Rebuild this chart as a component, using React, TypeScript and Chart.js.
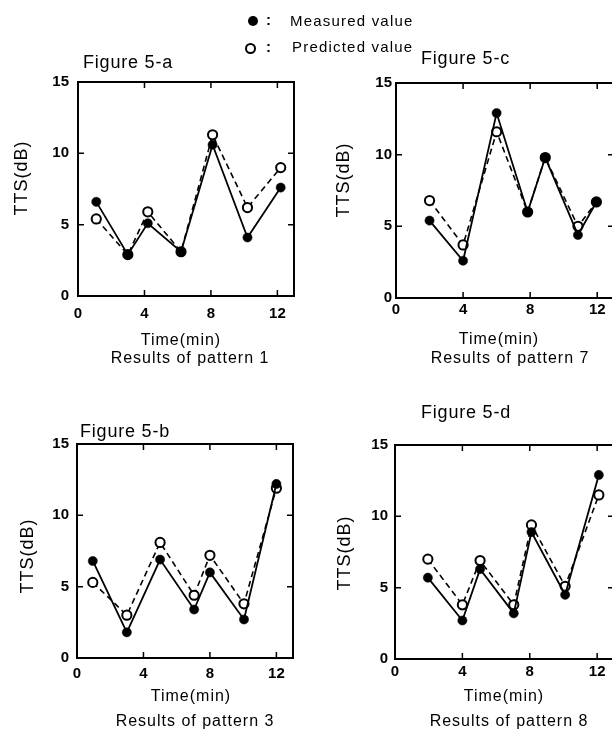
import React, { useEffect, useRef } from "react";
import { Chart, registerables } from "chart.js";
Chart.register(...registerables);

// ---------- data ----------
const X_TICKS = [0, 4, 8, 12];
const Y_TICKS = [0, 5, 10, 15];
const X_MAX = 13;
const Y_MAX = 15;

const TIME_A = [1.1, 3.0, 4.2, 6.2, 8.1, 10.2, 12.2];
const MEASURED_A = [6.6, 2.9, 5.1, 3.1, 10.6, 4.1, 7.6];
const PREDICTED_A = [5.4, 2.9, 5.9, 3.1, 11.3, 6.2, 9.0];

const TIME_B = [0.95, 3.0, 5.0, 7.05, 8.0, 10.05, 12.0];
const MEASURED_B = [6.8, 1.8, 6.9, 3.4, 6.0, 2.7, 12.2];
const PREDICTED_B = [5.3, 3.0, 8.1, 4.4, 7.2, 3.8, 11.9];

const TIME_C = [2.0, 4.0, 6.0, 7.85, 8.9, 10.85, 11.95];
const MEASURED_C = [5.4, 2.6, 12.9, 6.0, 9.8, 4.4, 6.7];
const PREDICTED_C = [6.8, 3.7, 11.6, 6.0, 9.8, 5.0, 6.7];

const TIME_D = [1.95, 4.0, 5.05, 7.05, 8.1, 10.1, 12.1];
const MEASURED_D = [5.7, 2.7, 6.3, 3.2, 8.9, 4.5, 12.9];
const PREDICTED_D = [7.0, 3.8, 6.9, 3.8, 9.4, 5.1, 11.5];

const Y_LABEL = "TTS(dB)";
const X_LABEL = "Time(min)";
const LEGEND_MEASURED = "Measured value";
const LEGEND_PREDICTED = "Predicted value";

// ---------- layout ----------
type Panel = {
  title: string;
  caption: string;
  time: number[];
  measured: number[];
  predicted: number[];
  box: { x: number; y: number; w: number; h: number };
  area: { l: number; t: number; r: number; b: number };
  titlePos: { x: number; y: number };
  yTitlePos: { x: number; y: number };
  xTitlePos: { x: number; y: number };
  capPos: { x: number; y: number };
  yTickPad: number;
  xTickPad: number;
};

const XAXIS_H = 30;
const FONT = "'Liberation Sans', Arial, sans-serif";

const PANELS: Panel[] = [
  {
    title: "Figure 5-a",
    caption: "Results of pattern 1",
    time: TIME_A, measured: MEASURED_A, predicted: PREDICTED_A,
    box: { x: 0, y: 0, w: 306, h: 366 },
    area: { l: 78, t: 82, r: 294, b: 296 },
    titlePos: { x: 83, y: 68 },
    yTitlePos: { x: 22, y: 178 },
    xTitlePos: { x: 181, y: 341 },
    capPos: { x: 190, y: 359 },
    yTickPad: 9,
    xTickPad: 9,
  },
  {
    title: "Figure 5-b",
    caption: "Results of pattern 3",
    time: TIME_B, measured: MEASURED_B, predicted: PREDICTED_B,
    box: { x: 0, y: 366, w: 306, h: 367 },
    area: { l: 77, t: 444, r: 293, b: 658 },
    titlePos: { x: 80, y: 437 },
    yTitlePos: { x: 28, y: 556 },
    xTitlePos: { x: 191, y: 697 },
    capPos: { x: 195, y: 722 },
    yTickPad: 8,
    xTickPad: 7,
  },
  {
    title: "Figure 5-c",
    caption: "Results of pattern 7",
    time: TIME_C, measured: MEASURED_C, predicted: PREDICTED_C,
    box: { x: 306, y: 0, w: 320, h: 366 },
    area: { l: 396, t: 83, r: 614, b: 298 },
    titlePos: { x: 421, y: 64 },
    yTitlePos: { x: 344, y: 180 },
    xTitlePos: { x: 499, y: 340 },
    capPos: { x: 510, y: 359 },
    yTickPad: 4,
    xTickPad: 3,
  },
  {
    title: "Figure 5-d",
    caption: "Results of pattern 8",
    time: TIME_D, measured: MEASURED_D, predicted: PREDICTED_D,
    box: { x: 306, y: 366, w: 320, h: 367 },
    area: { l: 395, t: 445, r: 614, b: 659 },
    titlePos: { x: 421, y: 418 },
    yTitlePos: { x: 345, y: 553 },
    xTitlePos: { x: 504, y: 697 },
    capPos: { x: 509, y: 722 },
    yTickPad: 7,
    xTickPad: 4,
  },
];

function makeDecorPlugin(p: Panel) {
  return {
    id: "decor",
    afterDraw(chart: any) {
      const ctx: CanvasRenderingContext2D = chart.ctx;
      const a = chart.chartArea;
      const xs = chart.scales.x;
      const ys = chart.scales.y;
      const ox = p.box.x;
      const oy = p.box.y;
      ctx.save();
      ctx.strokeStyle = "#000";
      ctx.fillStyle = "#000";
      // frame
      ctx.lineWidth = 2;
      ctx.strokeRect(a.left, a.top, a.right - a.left, a.bottom - a.top);
      // inward ticks
      ctx.lineWidth = 1.5;
      const TL = 6;
      ctx.beginPath();
      X_TICKS.forEach((v) => {
        if (v <= 0) return;
        const px = xs.getPixelForValue(v);
        ctx.moveTo(px, a.bottom);
        ctx.lineTo(px, a.bottom - TL);
        ctx.moveTo(px, a.top);
        ctx.lineTo(px, a.top + TL);
      });
      Y_TICKS.forEach((v) => {
        if (v <= 0 || v >= Y_MAX) return;
        const py = ys.getPixelForValue(v);
        ctx.moveTo(a.left, py);
        ctx.lineTo(a.left + TL, py);
        ctx.moveTo(a.right, py);
        ctx.lineTo(a.right - TL, py);
      });
      ctx.stroke();

      // texts
      (ctx as any).letterSpacing = "0.8px";
      ctx.font = `18px ${FONT}`;
      ctx.textAlign = "left";
      ctx.textBaseline = "alphabetic";
      ctx.fillText(p.title, p.titlePos.x - ox, p.titlePos.y - oy);

      ctx.textAlign = "center";
      ctx.textBaseline = "middle";
      (ctx as any).letterSpacing = "1px";
      ctx.font = `16px ${FONT}`;
      ctx.fillText(X_LABEL, p.xTitlePos.x - ox, p.xTitlePos.y - oy);
      ctx.fillText(p.caption, p.capPos.x - ox, p.capPos.y - oy);

      ctx.save();
      ctx.translate(p.yTitlePos.x - ox, p.yTitlePos.y - oy);
      ctx.rotate(-Math.PI / 2);
      ctx.font = `18px ${FONT}`;
      ctx.fillText(Y_LABEL, 0, 0);
      ctx.restore();
      ctx.restore();
    },
  };
}

function PanelChart({ p }: { p: Panel }) {
  const ref = useRef<HTMLCanvasElement | null>(null);
  useEffect(() => {
    if (!ref.current) return;
    const yw = p.area.l - p.box.x;
    const chart = new Chart(ref.current, {
      type: "line",
      data: {
        datasets: [
          {
            label: LEGEND_MEASURED,
            data: p.time.map((x, i) => ({ x, y: p.measured[i] })),
            borderColor: "#000",
            borderWidth: 1.8,
            pointRadius: 4.6,
            pointBackgroundColor: "#000",
            pointBorderColor: "#000",
            pointBorderWidth: 0.5,
            tension: 0,
            clip: false as any,
          },
          {
            label: LEGEND_PREDICTED,
            data: p.time.map((x, i) => ({ x, y: p.predicted[i] })),
            borderColor: "#000",
            borderWidth: 1.6,
            borderDash: [6, 4],
            pointRadius: 4.6,
            pointBackgroundColor: "#fff",
            pointBorderColor: "#000",
            pointBorderWidth: 2,
            tension: 0,
            clip: false as any,
          },
        ],
      },
      options: {
        responsive: false,
        maintainAspectRatio: false,
        animation: false,
        devicePixelRatio: 1,
        layout: {
          padding: {
            left: 0,
            top: p.area.t - p.box.y,
            right: p.box.x + p.box.w - p.area.r,
            bottom: p.box.y + p.box.h - p.area.b - XAXIS_H,
          },
        },
        plugins: {
          legend: { display: false },
          title: { display: false },
          tooltip: { enabled: false },
        },
        scales: {
          x: {
            type: "linear",
            min: 0,
            max: X_MAX,
            grid: { display: false, drawTicks: false },
            border: { display: false },
            afterBuildTicks: (s: any) => {
              s.ticks = X_TICKS.map((v) => ({ value: v }));
            },
            afterFit: (s: any) => {
              s.height = XAXIS_H;
            },
            ticks: {
              color: "#000",
              padding: p.xTickPad,
              maxRotation: 0,
              autoSkip: false,
              font: { family: FONT, size: 15, weight: "bold" },
            },
          },
          y: {
            type: "linear",
            min: 0,
            max: Y_MAX,
            grid: { display: false, drawTicks: false },
            border: { display: false },
            afterBuildTicks: (s: any) => {
              s.ticks = Y_TICKS.map((v) => ({ value: v }));
            },
            afterFit: (s: any) => {
              s.width = yw;
            },
            ticks: {
              color: "#000",
              padding: p.yTickPad,
              font: { family: FONT, size: 15, weight: "bold" },
            },
          },
        },
      } as any,
      plugins: [makeDecorPlugin(p)],
    });
    return () => chart.destroy();
  }, [p]);
  return (
    <canvas
      ref={ref}
      width={p.box.w}
      height={p.box.h}
      style={{
        position: "absolute",
        left: p.box.x,
        top: p.box.y,
        width: p.box.w,
        height: p.box.h,
      }}
    />
  );
}

export default function App() {
  const text: React.CSSProperties = {
    position: "absolute",
    fontFamily: FONT,
    fontSize: 15,
    letterSpacing: "1.2px",
    lineHeight: "18px",
    color: "#000",
    whiteSpace: "nowrap",
  };
  return (
    <div
      style={{
        position: "absolute",
        left: 0,
        top: 0,
        width: 612,
        height: 733,
        overflow: "hidden",
        background: "#fff",
      }}
    >
      {PANELS.map((p) => (
        <PanelChart key={p.title} p={p} />
      ))}
      <div
        style={{
          position: "absolute",
          left: 248,
          top: 16,
          width: 10,
          height: 10,
          borderRadius: "50%",
          background: "#000",
        }}
      />
      <span style={{ ...text, left: 266, top: 11, fontWeight: "bold" }}>:</span>
      <span style={{ ...text, left: 290, top: 12 }}>{LEGEND_MEASURED}</span>
      <div
        style={{
          position: "absolute",
          left: 245,
          top: 43,
          width: 11,
          height: 11,
          borderRadius: "50%",
          border: "2px solid #000",
          boxSizing: "border-box",
          background: "#fff",
        }}
      />
      <span style={{ ...text, left: 266, top: 38, fontWeight: "bold" }}>:</span>
      <span style={{ ...text, left: 292, top: 38 }}>{LEGEND_PREDICTED}</span>
    </div>
  );
}
